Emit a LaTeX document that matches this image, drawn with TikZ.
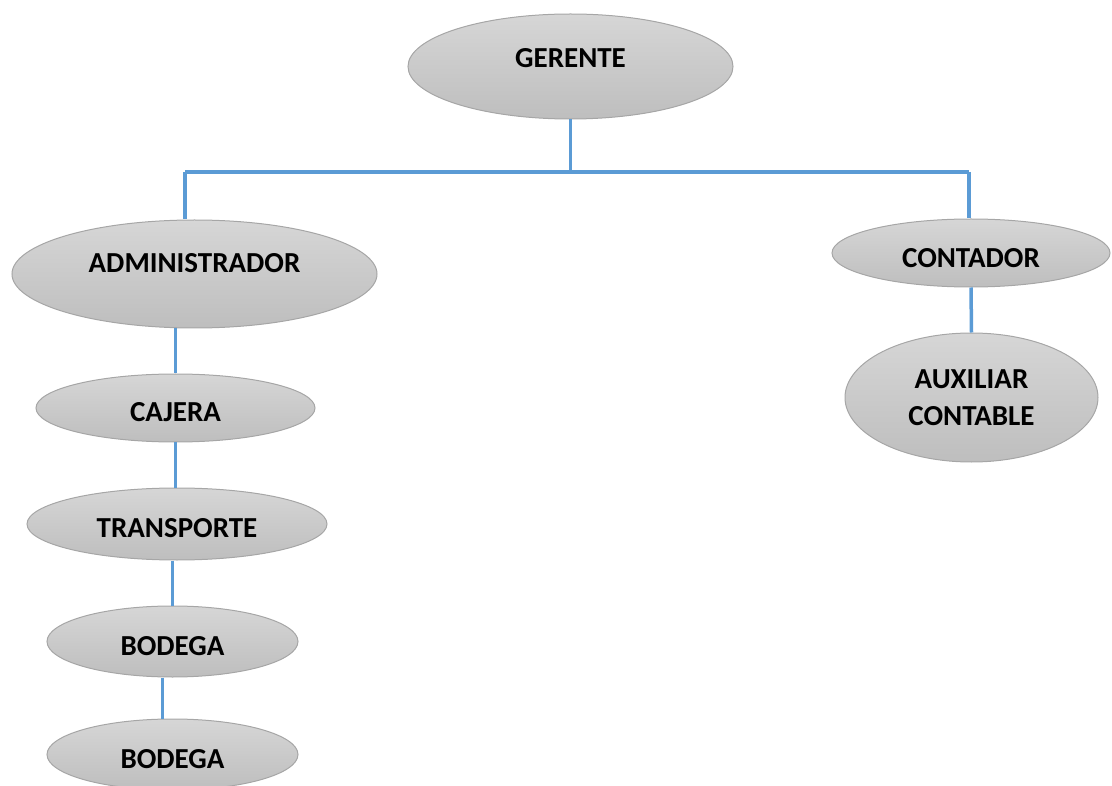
\documentclass[tikz,border=0pt]{standalone}
\usepackage{fontspec}
\setmainfont{Carlito}
\usepackage{tikz}
\usetikzlibrary{shapes.geometric}

\definecolor{linha}{HTML}{5B9BD5}
\definecolor{topo}{HTML}{D6D6D6}
\definecolor{base}{HTML}{BEBEBE}
\definecolor{borda}{HTML}{A6A6A6}

\begin{document}
\begin{tikzpicture}[x=1pt, y=-1pt,
    cargo/.style={ellipse, draw=borda, line width=1pt, top color=topo, bottom color=base,
        inner sep=0pt, font=\fontsize{29}{37}\selectfont\bfseries},
    liga/.style={draw=linha, line width=3.5pt}]
    \useasboundingbox (0,0) rectangle (1112,786);

    % cargos
    \node[cargo, minimum width=325pt, minimum height=105pt, text height=18pt, text depth=16pt] (ger) at (570.5,66.5) {GERENTE};
    \node[cargo, minimum width=365pt, minimum height=108pt, text height=18pt, text depth=20pt] (adm) at (194.5,274) {ADMINISTRADOR};
    \node[cargo, minimum width=278pt, minimum height=68pt, text height=30pt, text depth=0pt] (con) at (971,253) {CONTADOR};
    \node[cargo, minimum width=253pt, minimum height=129pt, align=center] (aux) at (971.5,397.5) {AUXILIAR\\CONTABLE};
    \node[cargo, minimum width=279pt, minimum height=68pt, text height=28pt, text depth=0pt] (caj) at (175.5,408) {CAJERA};
    \node[cargo, minimum width=300pt, minimum height=72pt, text height=26pt, text depth=0pt] (tra) at (177,524) {TRANSPORTE};
    \node[cargo, minimum width=251pt, minimum height=71pt, text height=27pt, text depth=0pt] (bo1) at (172.5,641.5) {BODEGA};
    \node[cargo, minimum width=251pt, minimum height=71pt, text height=27pt, text depth=0pt] (bo2) at (172.5,754.5) {BODEGA};

    % barra horizontal
    \coordinate (barE) at (185,172);
    \coordinate (barD) at (969,172);
    \draw[liga] (ger.south) -- (ger.south |- barE);
    \draw[liga] (barE) -- (barD);
    \draw[liga] (barE) -- (barE |- adm.north);
    \draw[liga] (barD) -- (barD |- con.north);

    % ramo esquerdo
    \draw[liga] (caj.north |- adm.south) -- (caj.north);
    \draw[liga] (caj.south) -- (caj.south |- tra.north);
    \draw[liga] (bo1.north |- tra.south) -- (bo1.north);
    \draw[liga] ([xshift=-10pt]bo1.south) -- ([xshift=-10pt]bo2.north);

    % ramo direito
    \draw[liga] (con.south) -- (aux.north);
\end{tikzpicture}
\end{document}
